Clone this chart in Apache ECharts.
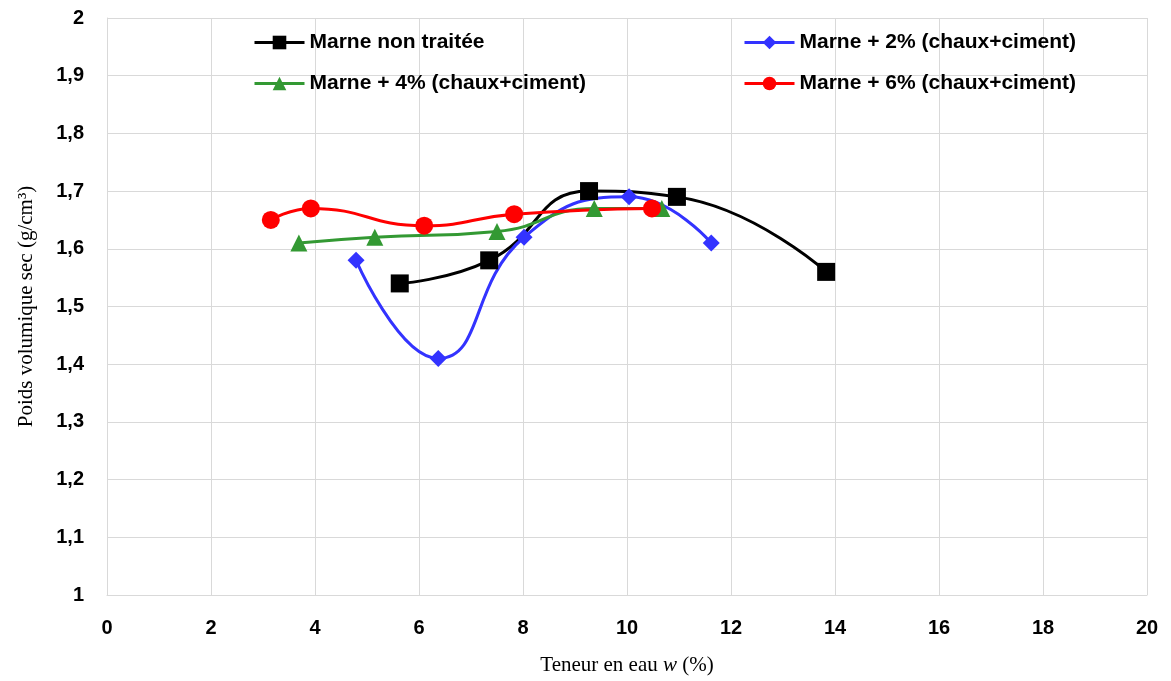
<!DOCTYPE html>
<html>
<head>
<meta charset="utf-8">
<script src="https://cdn.jsdelivr.net/npm/echarts@6/dist/echarts.min.js"></script>
<style>
  html, body { margin: 0; padding: 0; background: #fff; }
  #chart { width: 1171px; height: 681px; }
</style>
</head>
<body>
<div id="chart"></div>
<script>
// Compaction curves: dry density vs. water content
const nonTraitee = [[5.63, 1.54], [7.35, 1.58], [9.27, 1.70], [10.96, 1.69], [13.83, 1.56]];
const plus2 = [[4.79, 1.58], [6.37, 1.41], [8.02, 1.62], [10.04, 1.69], [11.62, 1.61]];
const plus4 = [[3.69, 1.61], [5.15, 1.62], [7.50, 1.63], [9.37, 1.67], [10.67, 1.67]];
const plus6 = [[3.15, 1.65], [3.92, 1.67], [6.10, 1.64], [7.83, 1.66], [10.48, 1.67]];

const seriesNames = [
  'Marne non traitée',
  'Marne + 2% (chaux+ciment)',
  'Marne + 4% (chaux+ciment)',
  'Marne + 6% (chaux+ciment)'
];
const xTitle = 'Teneur en eau {i|w} (%)';
const yTitle = 'Poids volumique sec (g/cm³)';

const tickFont = { fontFamily: '"Liberation Sans", Arial, sans-serif', fontWeight: 'bold', fontSize: 20, color: '#000' };
const legendText = { fontFamily: '"Liberation Sans", Arial, sans-serif', fontWeight: 'bold', fontSize: 21, color: '#000' };

function mkSeries(name, data, color, symbol, size) {
  return {
    name, type: 'line', data, smooth: 0.5,
    symbol, symbolSize: size,
    lineStyle: { color, width: 3 },
    itemStyle: { color },
    z: 3
  };
}

function mkLegend(name, left, top) {
  return {
    data: [name], left, top, itemWidth: 50, itemHeight: 17, itemGap: 7,
    lineStyle: { width: 3 },
    textStyle: legendText, selectedMode: false
  };
}

const chart = echarts.init(document.getElementById('chart'));
chart.setOption({
  animation: false,
  backgroundColor: '#fff',
  grid: { left: 107, right: 24, top: 18, bottom: 86 },
  legend: [
    mkLegend(seriesNames[0], 248, 27),
    mkLegend(seriesNames[1], 738, 27),
    mkLegend(seriesNames[2], 248, 68),
    mkLegend(seriesNames[3], 738, 68)
  ],
  xAxis: {
    type: 'value', min: 0, max: 20, interval: 2,
    name: xTitle, nameLocation: 'middle', nameGap: 60,
    nameTextStyle: {
      fontFamily: '"Liberation Serif", "Times New Roman", serif', fontSize: 21, color: '#000',
      rich: { i: { fontFamily: '"Liberation Serif", serif', fontStyle: 'italic', fontSize: 21, color: '#000' } }
    },
    axisLine: { lineStyle: { color: '#d9d9d9' } },
    axisTick: { show: false },
    axisLabel: Object.assign({ margin: 23 }, tickFont),
    splitLine: { show: true, lineStyle: { color: '#d9d9d9', width: 1 } }
  },
  yAxis: {
    type: 'value', min: 1, max: 2, interval: 0.1,
    name: yTitle, nameLocation: 'middle', nameGap: 70, nameRotate: 90,
    nameTextStyle: { fontFamily: '"Liberation Serif", "Times New Roman", serif', fontSize: 21, color: '#000' },
    axisLine: { show: true, lineStyle: { color: '#d9d9d9' } },
    axisTick: { show: false },
    axisLabel: Object.assign({ margin: 23, formatter: v => (Math.round(v * 10) / 10).toString().replace('.', ',') }, tickFont),
    splitLine: { show: true, lineStyle: { color: '#d9d9d9', width: 1 } }
  },
  series: [
    mkSeries(seriesNames[0], nonTraitee, '#000000', 'rect', 18),
    mkSeries(seriesNames[1], plus2, '#3333ff', 'diamond', 17),
    mkSeries(seriesNames[2], plus4, '#339933', 'triangle', 17),
    mkSeries(seriesNames[3], plus6, '#ff0000', 'circle', 18)
  ]
});
</script>
</body>
</html>
